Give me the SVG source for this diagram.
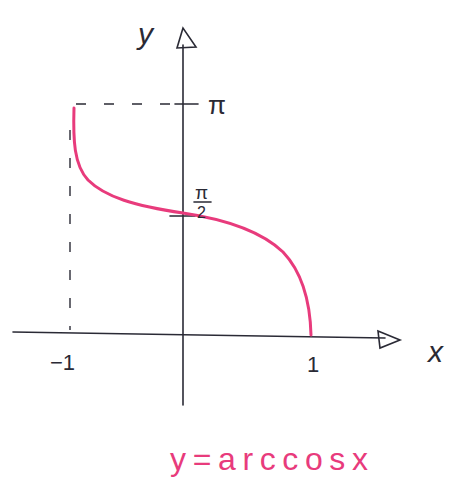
<svg xmlns="http://www.w3.org/2000/svg" width="463" height="483" viewBox="0 0 463 483">
<style>
.ax{stroke:#2a2a35;stroke-width:1.6;fill:none;stroke-linecap:round}
.dash{stroke:#2a2a35;stroke-width:1.4;fill:none;stroke-dasharray:10 18}
.t{font-family:"Liberation Sans",sans-serif;fill:#2a2a35}
.curve{stroke:#e83b7c;stroke-width:3;fill:none;stroke-linecap:round}
</style>
<rect width="463" height="483" fill="#fff"/>
<g id="axes">
<path class="ax" d="M13,332 L385,338"/>
<path class="ax" d="M183,45 L183,405"/>
<path class="ax" d="M378,331 L400,340 L380,348 Z"/>
<path class="ax" d="M183,28 L177,48 L196,47 Z"/>
<path class="ax" d="M175,104 L198,104" stroke-width="2.2"/>
<path class="ax" d="M170,216 L195,216" stroke-width="2.2"/>
</g>
<g id="guides">
<path class="dash" d="M76,104 L176,104"/>
<path class="dash" d="M70,130 L70,330"/>
</g>
<g id="graph">
<path class="curve" d="M74,108 C73,140 74,165 88,180 C105,197 135,206 183,213 C230,220 262,232 283,252 C300,270 310,295 311,335"/>
</g>
<g id="labels">
<text class="t" x="138" y="44" font-size="30" font-style="italic">y</text>
<text class="t" x="208" y="114" font-size="26">π</text>
<text class="t" x="195" y="199" font-size="19">π</text>
<path class="ax" d="M194,202 L211,202" stroke-width="1.4"/>
<text class="t" x="197" y="218" font-size="16">2</text>
<text class="t" x="50" y="370" font-size="22">−1</text>
<text class="t" x="307" y="372" font-size="22">1</text>
<text class="t" x="428" y="362" font-size="30" font-style="italic">x</text>
<text x="170" y="470" font-family="'Liberation Sans',sans-serif" font-size="32" fill="#e83b7c" textLength="198" lengthAdjust="spacing">y=arccosx</text>
</g>
</svg>
